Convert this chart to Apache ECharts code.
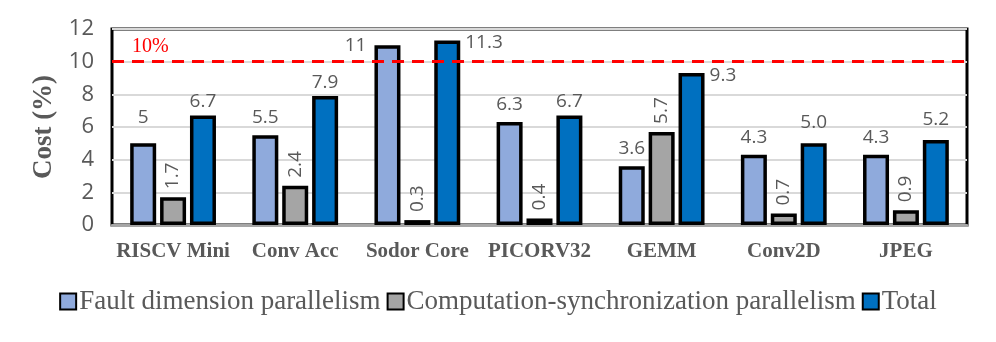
<!DOCTYPE html>
<html>
<head>
<meta charset="utf-8">
<script src="https://cdn.jsdelivr.net/npm/echarts@6/dist/echarts.min.js"></script>
<style>
  html, body { margin: 0; padding: 0; background: #fff; }
  #chart { width: 996px; height: 342px; }
</style>
</head>
<body>
<div id="chart"></div>
<script>
  // 数据
  const categories = ['RISCV Mini', 'Conv Acc', 'Sodor Core', 'PICORV32', 'GEMM', 'Conv2D', 'JPEG']
  const faultValues = [5, 5.5, 11, 6.3, 3.6, 4.3, 4.3]
  const syncValues = [1.7, 2.4, 0.3, 0.4, 5.7, 0.7, 0.9]
  const totalValues = [6.7, 7.9, 11.3, 6.7, 9.3, 5.0, 5.2]
  const yTicks = [0, 2, 4, 6, 8, 10, 12]
  const threshold = 10

  const chart = echarts.init(document.getElementById('chart'))

  const labelFont = {
    fontFamily: 'Open Sans',
    fontSize: 19,
    color: '#595959'
  }

  // 标签挤在顶部时，放在柱子左右两侧
  const sideLabel = (side) => ({
    position: side === 'left' ? [0, 0] : ['100%', 0],
    align: side === 'left' ? 'right' : 'left',
    verticalAlign: 'middle',
    offset: side === 'left' ? [-8, 0] : [5, 2]
  })

  const barBorder = { borderColor: '#000', borderWidth: 3.5 }

  const option = {
    animation: false,
    grid: {
      left: 112, right: 29, top: 29, bottom: 117,
      show: true,
      borderColor: '#000',
      borderWidth: 3
    },
    legend: {
      bottom: 22,
      left: 'center',
      icon: 'rect',
      itemWidth: 16,
      itemHeight: 16,
      itemGap: 6,
      textStyle: { fontFamily: 'Liberation Serif', fontSize: 27, color: '#595959', padding: [0, 0, 0, -2] },
      data: ['Fault dimension parallelism', 'Computation-synchronization parallelism', 'Total']
    },
    xAxis: {
      type: 'category',
      data: categories,
      axisTick: { show: false },
      axisLine: { lineStyle: { color: '#a6a6a6', width: 3 } },
      axisLabel: {
        interval: 0,
        fontFamily: 'Liberation Serif', fontWeight: 'bold', fontSize: 21,
        color: '#595959', margin: 16
      }
    },
    yAxis: {
      type: 'value',
      min: yTicks[0],
      max: yTicks[yTicks.length - 1],
      interval: 2,
      name: 'Cost (%)',
      nameLocation: 'middle',
      nameGap: 46,
      nameTextStyle: { fontFamily: 'Liberation Serif', fontWeight: 'bold', fontSize: 27, color: '#595959' },
      axisLine: { show: false },
      axisTick: { show: false },
      axisLabel: { fontFamily: 'Open Sans', fontSize: 22, color: '#595959', margin: 18 },
      splitLine: { lineStyle: { color: '#d9d9d9', width: 2 } }
    },
    series: [
      {
        name: 'Fault dimension parallelism',
        type: 'bar',
        barWidth: 26,
        barGap: '15%',
        itemStyle: { color: '#8faadc', ...barBorder },
        label: { show: true, position: 'top', distance: 8, ...labelFont },
        data: faultValues.map((v, i) => {
          if (i === 2) return { value: v, label: sideLabel('left') }
          if (i === 0) return { value: v, label: { distance: 16 } }
          return v
        }),
        markLine: {
          silent: true,
          symbol: 'none',
          lineStyle: { color: '#ff0000', type: [12, 8], width: 3 },
          label: {
            position: 'insideStartTop',
            formatter: '10%',
            fontFamily: 'Liberation Serif', fontSize: 20, color: '#ff0000',
            distance: [20, 5]
          },
          data: [{ yAxis: threshold }]
        }
      },
      {
        name: 'Computation-synchronization parallelism',
        type: 'bar',
        barWidth: 26,
        itemStyle: { color: '#a5a5a5', ...barBorder },
        label: {
          show: true, position: 'top', rotate: 90, align: 'left', verticalAlign: 'middle',
          distance: 8, ...labelFont
        },
        data: syncValues
      },
      {
        name: 'Total',
        type: 'bar',
        barWidth: 26,
        itemStyle: { color: '#0070c0', ...barBorder },
        label: {
          show: true, position: 'top', distance: 4, ...labelFont,
          formatter: (p) => p.value.toFixed(1)
        },
        data: totalValues.map((v, i) => {
          if (i === 2 || i === 4) return { value: v, label: sideLabel('right') }
          if (i >= 5) return { value: v, label: { distance: 11 } }
          return v
        })
      }
    ]
  }

  chart.setOption(option)
</script>
</body>
</html>
